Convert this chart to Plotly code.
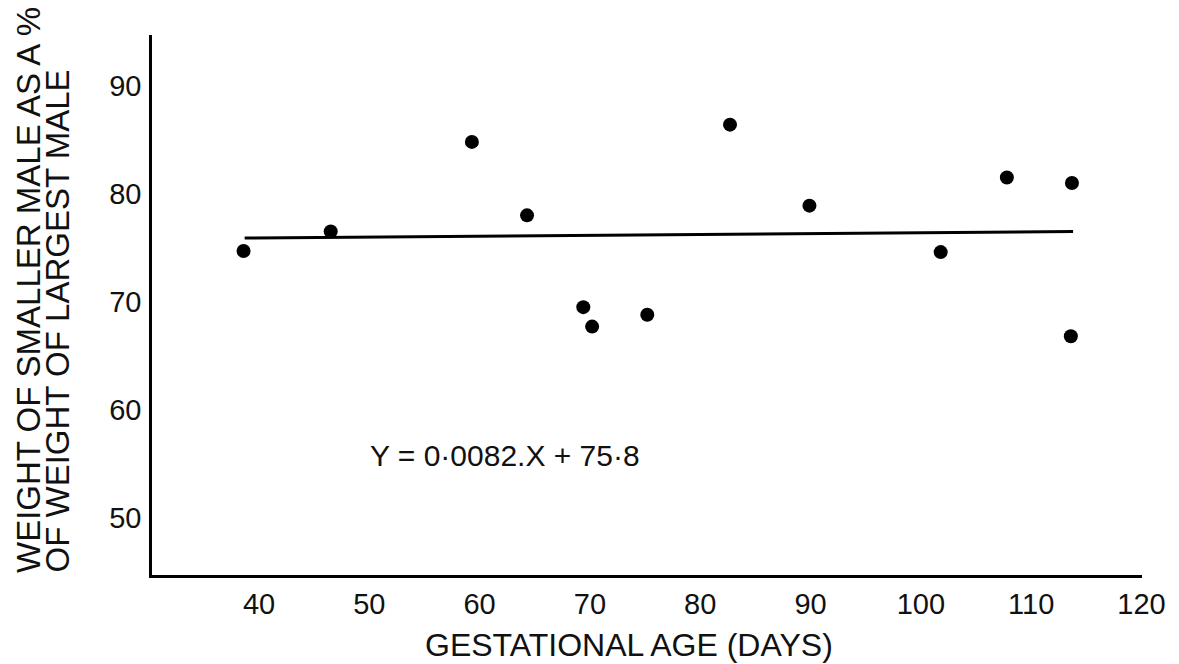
import plotly.graph_objects as go

# Data
age_days = [38.6, 46.5, 59.3, 64.3, 69.4, 70.2, 75.2, 82.7, 89.9, 101.8, 107.8, 113.7, 113.6]
weight_pct = [74.7, 76.5, 84.8, 78.0, 69.5, 67.7, 68.8, 86.4, 78.9, 74.6, 81.5, 81.0, 66.8]

# Fitted regression line end points (as drawn)
fit_x = [38.7, 113.8]
fit_y = [75.9, 76.5]

x_ticks = [40, 50, 60, 70, 80, 90, 100, 110, 120]
y_ticks = [50, 60, 70, 80, 90]

FONT = "Liberation Sans, Arial, Helvetica, sans-serif"

fig = go.Figure()
fig.add_trace(go.Scatter(x=fit_x, y=fit_y, mode="lines",
                         line=dict(color="black", width=3), showlegend=False))
fig.add_trace(go.Scatter(x=age_days, y=weight_pct, mode="markers",
                         marker=dict(color="black", size=14), showlegend=False))

fig.update_layout(
    width=1179, height=664,
    margin=dict(l=152, r=37, t=35, b=89),
    paper_bgcolor="white", plot_bgcolor="white",
    font=dict(family=FONT, color="black"),
    xaxis=dict(range=[30.3, 120.05], tickvals=x_ticks, ticktext=[str(v) for v in x_ticks],
               showgrid=False, zeroline=False, showline=True, linecolor="black",
               linewidth=2.5, ticks="", tickfont=dict(size=29, color="#111"),
               ticklabelstandoff=1),
    yaxis=dict(range=[44.7, 94.7], tickvals=y_ticks, ticktext=[str(v) for v in y_ticks],
               showgrid=False, zeroline=False, showline=True, linecolor="black",
               linewidth=2.5, ticks="", tickfont=dict(size=29, color="#111"),
               ticklabelstandoff=2),
)

fig.add_annotation(text="GESTATIONAL AGE (DAYS)", xref="paper", yref="paper",
                   x=(629 - 152) / 990, y=-0.13, xanchor="center", yanchor="middle",
                   showarrow=False, font=dict(size=32, color="#111"))
fig.add_annotation(text="WEIGHT OF SMALLER MALE AS A %", xref="paper", yref="paper",
                   x=(28 - 152) / 990, y=0, xanchor="center", yanchor="bottom",
                   textangle=-90, showarrow=False, font=dict(size=33, color="#111"))
fig.add_annotation(text="OF WEIGHT OF LARGEST MALE", xref="paper", yref="paper",
                   x=(57 - 152) / 990, y=0, xanchor="center", yanchor="bottom",
                   textangle=-90, showarrow=False, font=dict(size=33, color="#111"))
fig.add_annotation(text="Y = 0·0082.X + 75·8", xref="x", yref="y",
                   x=49.9, y=55.8, xanchor="left", yanchor="middle",
                   showarrow=False, font=dict(size=30, color="#111"))

fig.write_html("out.html")
